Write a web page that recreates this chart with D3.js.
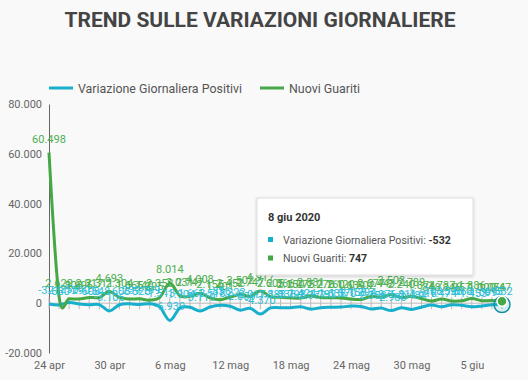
<!DOCTYPE html>
<html><head><meta charset="utf-8">
<script src="https://cdn.jsdelivr.net/npm/d3@7"></script>
<style>
html,body{margin:0;padding:0;background:#f9f9f9;}
svg{display:block;font-family:Roboto, "Noto Sans", sans-serif;}
</style></head>
<body><svg id="c" width="528" height="380"></svg>
<script>
const dates = ["24 apr","25 apr","26 apr","27 apr","28 apr","29 apr","30 apr",
"1 mag","2 mag","3 mag","4 mag","5 mag","6 mag","7 mag","8 mag","9 mag","10 mag","11 mag","12 mag","13 mag","14 mag","15 mag","16 mag","17 mag","18 mag","19 mag","20 mag","21 mag","22 mag","23 mag","24 mag","25 mag","26 mag","27 mag","28 mag","29 mag","30 mag","31 mag",
"1 giu","2 giu","3 giu","4 giu","5 giu","6 giu","7 giu","8 giu"];
const variazionePositivi = [-321,-680,256,-290,-608,-548,-3106,
-608,-239,-525,-199,-1513,-6939,-1904,-1663,-3119,-1518,-836,-1222,-2809,-2017,-4370,-1883,-1836,-1798,-1424,-2377,-1792,-1638,-1570,-1158,-1294,-2358,-1976,-2980,-1811,-2484,-1616,
-708,-1474,-596,-868,-1453,-1099,-615,-532];
const nuoviGuariti = [60498,2622,1808,1696,2317,2311,4693,
2304,1665,1740,1225,2352,8014,3031,2747,4008,2155,1401,2452,3502,2747,4917,2605,2366,2150,2075,2881,2278,2160,2120,1639,1502,2677,2443,3503,2240,2789,1874,
848,1737,846,957,1886,1000,1056,747];
const xTickLabels = ["24 apr","30 apr","6 mag","12 mag","18 mag","24 mag","30 mag","5 giu"];
const yTickValues = [-20000,0,20000,40000,60000,80000];
const seriesNames = ["Variazione Giornaliera Positivi","Nuovi Guariti"];
const tooltipTitle = "8 giu 2020";

const colBlue = "#17afcc", colGreen = "#45a845";
const colBlueLbl = "#2cbfd8", colGreenLbl = "#4caf50";

const loc = d3.formatLocale({decimal:",",thousands:".",grouping:[3],currency:["€",""],minus:"-"});
const fmt = loc.format(",d");

const svg = d3.select("#c");
const x = d3.scalePoint().domain(dates).range([49, 502]);
const y = d3.scaleLinear().domain([-20000, 80000]).range([353, 104]);

// title
svg.append("text").attr("x",260).attr("y",27).attr("text-anchor","middle")
  .attr("font-size",21).attr("font-weight",700).attr("fill","#444")
  .text("TREND SULLE VARIAZIONI GIORNALIERE");

// legend
const leg = [{n:seriesNames[0],c:colBlue,x:49},{n:seriesNames[1],c:colGreen,x:260}];
leg.forEach(l=>{
  svg.append("line").attr("x1",l.x).attr("x2",l.x+24).attr("y1",88).attr("y2",88)
    .attr("stroke",l.c).attr("stroke-width",3);
  svg.append("text").attr("x",l.x+29).attr("y",92.5).attr("font-size",12.4).attr("fill","#555").text(l.n);
});

// y axis
const ya = svg.append("g").attr("transform","translate(49,0)")
  .call(d3.axisLeft(y).tickValues(yTickValues).tickSize(0).tickPadding(7).tickFormat(fmt));
ya.select(".domain").attr("stroke","#666");
ya.selectAll("text").attr("font-size",11).attr("fill","#666").attr("font-family","Roboto");

// x axis labels
const xa = svg.append("g").attr("transform","translate(0,353)")
  .call(d3.axisBottom(x).tickValues(xTickLabels).tickSize(0).tickPadding(8));
xa.select(".domain").remove();
xa.selectAll("text").attr("font-size",11).attr("fill","#666").attr("font-family","Roboto");

// zero line + day ticks
const y0 = y(0);
svg.append("g").selectAll("line").data(dates).join("line")
  .attr("x1",d=>x(d)).attr("x2",d=>x(d)).attr("y1",y0-6).attr("y2",y0+6)
  .attr("stroke","#bbb").attr("stroke-width",1);
svg.append("line").attr("x1",49).attr("x2",502).attr("y1",y0).attr("y2",y0)
  .attr("stroke","#bbb").attr("stroke-width",1);

const line = d3.line().x(d=>x(d.d)).y(d=>y(d.v)).curve(d3.curveCardinal);
const sBlue = dates.map((d,i)=>({d, v:variazionePositivi[i]}));
const sGreen = dates.map((d,i)=>({d, v:nuoviGuariti[i]}));

svg.append("path").datum(sBlue).attr("d",line).attr("fill","none").attr("stroke",colBlue).attr("stroke-width",3);
svg.append("path").datum(sGreen).attr("d",line).attr("fill","none").attr("stroke",colGreen).attr("stroke-width",3);

// data labels
svg.append("g").selectAll("text").data(sGreen).join("text")
  .attr("x",d=>x(d.d)).attr("y",d=>y(d.v)-10).attr("text-anchor","middle")
  .attr("font-size",11).attr("fill",colGreenLbl).text(d=>fmt(d.v));
svg.append("g").selectAll("text").data(sBlue).join("text")
  .attr("x",d=>x(d.d)).attr("y",d=>y(d.v)-10).attr("text-anchor","middle")
  .attr("font-size",11).attr("fill",colBlueLbl).text(d=>fmt(d.v));

// end markers
const lb = sBlue[sBlue.length-1], lg = sGreen[sGreen.length-1];
svg.append("circle").attr("cx",x(lb.d)).attr("cy",y(lb.v)).attr("r",8)
  .attr("fill","rgba(23,175,204,0.15)").attr("stroke","#168f9f").attr("stroke-width",1.5);
svg.append("circle").attr("cx",x(lg.d)).attr("cy",y(lg.v)).attr("r",5)
  .attr("fill",colGreen).attr("stroke","#fff").attr("stroke-width",1.5);

// tooltip
const defs = svg.append("defs");
const f = defs.append("filter").attr("id","sh").attr("x","-10%").attr("y","-10%").attr("width","130%").attr("height","140%");
f.append("feDropShadow").attr("dx",0).attr("dy",1).attr("stdDeviation",1.5).attr("flood-color","#000").attr("flood-opacity",0.2);
const tt = svg.append("g");
tt.append("rect").attr("x",257).attr("y",198).attr("width",216).attr("height",77)
  .attr("fill","#fff").attr("stroke","#ddd").attr("filter","url(#sh)");
tt.append("text").attr("x",268).attr("y",221).attr("font-size",11).attr("font-weight",700).attr("fill","#333").text(tooltipTitle);
[[seriesNames[0], lb.v, colBlue, 243.5],[seriesNames[1], lg.v, colGreen, 262]].forEach(r=>{
  tt.append("rect").attr("x",268).attr("y",r[3]-6.5).attr("width",5).attr("height",5).attr("fill",r[2]);
  const t = tt.append("text").attr("x",283).attr("y",r[3]).attr("font-size",10.6).attr("fill","#555");
  t.append("tspan").text(r[0]+": ");
  t.append("tspan").attr("font-weight",700).attr("fill","#333").text(fmt(r[1]));
});
</script></body></html>
